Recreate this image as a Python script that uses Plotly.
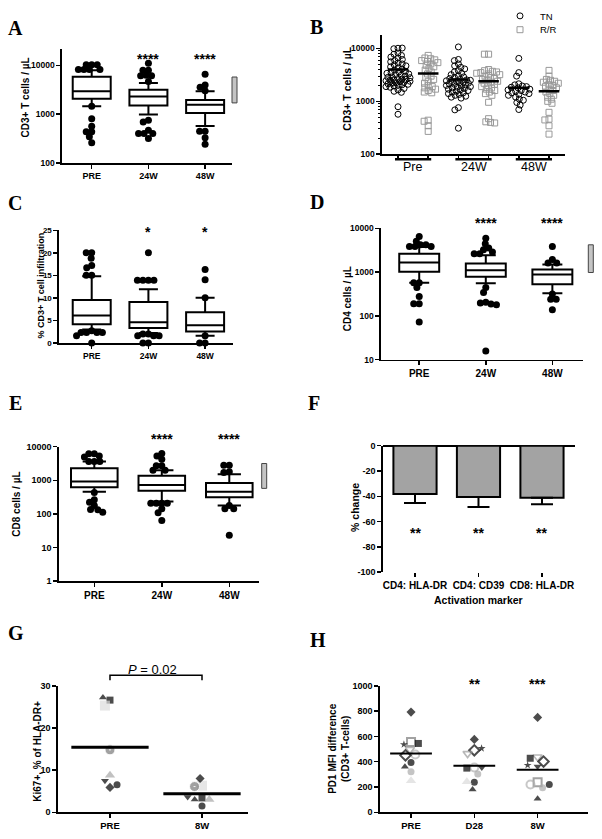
import math
import plotly.graph_objects as go

W, H = 602, 839
SANS = "Liberation Sans, Arial, sans-serif"
SERIF = "Liberation Serif, Times New Roman, serif"

# ======================= DATA =======================
box_cats = ["PRE", "24W", "48W"]

# Panel A : CD3+ T cells / uL  (box = q1, median, q3, whiskers)
A_q1 = [2055, 1507, 1057]
A_median = [2940, 2290, 1550]
A_q3 = [5810, 3170, 1960]
A_low = [1460, 980, 576]
A_high = [7900, 4330, 2940]
A_pre_dots = [10300, 10300, 10200, 8170, 8170, 8170, 8170, 1460, 810, 568, 436, 436, 346, 261]
A_24w_dots = [11000, 7920, 7920, 6280, 6080, 6080, 4680, 750, 692, 471, 403, 403, 403, 320]
A_48w_dots = [6580, 3950, 3550, 3000, 450, 450, 330, 242]
A_norm = [1700, 5750]
A_stars = ["", "****", "****"]

# Panel B : TN vs R/R
B_groups = ["Pre", "24W", "48W"]
B_tn_pre = [10100, 9900, 10200, 8200, 7800, 7400, 6900, 6600, 6200, 5900, 5600, 5300, 5100, 4900,
            4700, 4500, 4300, 4100, 3900, 3700, 3600, 3500, 3400, 3300, 3200, 3100, 3000, 2900,
            2850, 2800, 2700, 2650, 2600, 2550, 2500, 2450, 2400, 2350, 2300, 2250, 2200, 2150,
            2100, 2050, 2000, 1950, 1900, 1850, 1750, 1650, 1550, 1480, 790, 570]
B_rr_pre = [7400, 6600, 6400, 6100, 5900, 5700, 5400, 5100, 4800, 4500, 4200, 3900, 3600, 3300,
            3000, 2800, 2600, 2400, 2200, 2000, 1900, 1800, 1700, 1600, 1500, 1450, 440, 420, 345, 270]
B_tn_24w = [10700, 6200, 5900, 5100, 4700, 4400, 4100, 3800, 3600, 3400, 3200, 3050, 2900, 2800,
            2700, 2600, 2550, 2500, 2450, 2400, 2350, 2300, 2250, 2200, 2150, 2100, 2050, 2000,
            1950, 1900, 1850, 1800, 1750, 1700, 1650, 1600, 1550, 1500, 1450, 1400, 1350, 1300,
            1250, 1200, 1150, 760, 690, 310]
B_rr_24w = [7800, 7800, 4000, 3800, 3700, 3600, 3500, 3400, 3300, 3200, 3000, 2800, 2700, 2600,
            2500, 2400, 2300, 2200, 2100, 2000, 1900, 1800, 1700, 1600, 1500, 1400, 1300, 960,
            470, 410, 400, 390]
B_tn_48w = [6500, 3500, 3000, 2150, 2050, 1950, 1900, 1850, 1800, 1700, 1650, 1600, 1550, 1500,
            1450, 1400, 1350, 1300, 1200, 1100, 1050, 950, 850, 700]
B_rr_48w = [3850, 3000, 2600, 2500, 2400, 2300, 2200, 2100, 2000, 1900, 1800, 1700, 1600, 1500,
            1400, 1300, 1200, 1100, 1000, 920, 620, 460, 445, 345, 240]
B_tn_means = [4000, 2600, 1800]
B_rr_means = [3350, 2400, 1560]

# Panel C : % CD3+ T cell infiltration
C_q1 = [4.17, 3.3, 2.56]
C_median = [6.07, 4.6, 3.9]
C_q3 = [9.5, 9.1, 6.8]
C_low = [3.0, 2.2, 1.6]
C_high = [14.8, 11.9, 10.0]
C_pre_dots = [20, 20, 18.8, 17.2, 16.7, 15.0, 15.0, 2.7, 2.3, 2.3, 2.3, 2.3, 1.6, 0]
C_24w_dots = [20, 13.9, 13.9, 13.9, 13.9, 2.0, 2.0, 1.6, 1.6, 1.6, 0, 0]
C_48w_dots = [16.3, 14.0, 10.0, 1.6, 0, 0]
C_stars = ["", "*", "*"]

# Panel D : CD4 cells / uL
D_q1 = [1016, 785, 527]
D_median = [1650, 1110, 885]
D_q3 = [2630, 1570, 1150]
D_low = [575, 555, 330]
D_high = [3720, 2420, 1490]
D_pre_dots = [6490, 5090, 4200, 4200, 3860, 3860, 3860, 575, 575, 444, 277, 190, 190, 73]
D_24w_dots = [5900, 4440, 3550, 3240, 2880, 2630, 2630, 444, 342, 204, 196, 186, 180, 15.9]
D_48w_dots = [3860, 1930, 1620, 1620, 315, 240, 240, 139]
D_norm = [980, 4200]
D_stars = ["", "****", "****"]

# Panel E : CD8 cells / uL
E_q1 = [615, 490, 310]
E_median = [925, 720, 457]
E_q3 = [2290, 1360, 825]
E_low = [457, 232, 176]
E_high = [3600, 2000, 1520]
E_pre_dots = [6200, 6200, 5300, 4950, 3600, 3600, 3600, 435, 265, 221, 176, 134, 132, 112]
E_24w_dots = [6300, 5300, 4230, 2690, 2690, 2000, 2000, 206, 206, 206, 206, 141, 107, 63]
E_48w_dots = [2820, 2820, 1780, 1700, 176, 141, 141, 23]
E_norm = [574, 3150]
E_stars = ["", "****", "****"]

# Panel F : % change of activation markers
F_cats = ["CD4: HLA-DR", "CD4: CD39", "CD8: HLA-DR"]
F_change = [-38.3, -40.6, -41.1]
F_sem = [7.0, 7.8, 5.3]
F_stars = ["**", "**", "**"]

# Panel G : Ki67+ % of HLA-DR+
G_cats = ["PRE", "8W"]
G_pre = [26.6, 25.3, 27.2, 14.8, 8.8, 7.5, 5.9, 6.5]
G_8w = [3.4, 6.3, 3.0, 6.1, 3.0, 3.6, 8.0, 1.5]
G_means = [15.4, 4.4]
G_pvalue = "0.02"

# Panel H : PD1 MFI difference
H_cats = ["PRE", "D28", "8W"]
H_pre = [792, 555, 536, 544, 497, 456, 450, 393, 359, 320, 250]
H_d28 = [576, 490, 464, 505, 354, 349, 354, 302, 237, 242, 180]
H_8w = [750, 437, 427, 401, 362, 372, 237, 219, 193, 219, 107]
H_means = [465, 368, 336]
H_stars = ["", "**", "***"]

# ======================= STYLE / GEOMETRY =======================
# pixel boxes of each plotting area, and axis ranges
PANELS = {
    "A": dict(n=1, px=(62, 232), py=(45, 160), xr=(-0.524, 2.474), yr=(2, 4.323), log=True),
    "B": dict(n=2, px=(382, 565), py=(30, 151), xr=(-0.53, 5.53), yr=(2, 4.262), log=True),
    "C": dict(n=3, px=(59, 233), py=(228, 342), xr=(-0.577, 2.492), yr=(0, 25), log=False),
    "D": dict(n=4, px=(381, 583), py=(226, 359), xr=(-0.574, 2.46), yr=(1, 4), log=True),
    "E": dict(n=5, px=(59, 259), py=(447, 583), xr=(-0.523, 2.44), yr=(0, 4), log=True),
    "F": dict(n=6, px=(383, 575), py=(446, 574), xr=(-0.504, 2.52), yr=(-100, 0), log=False),
    "G": dict(n=7, px=(58, 248), py=(689, 817), xr=(-0.565, 1.5), yr=(0, 30), log=False),
    "H": dict(n=8, px=(380, 588), py=(689, 817), xr=(-0.49, 2.796), yr=(0, 1000), log=False),
}
# tick label font sizes (x, y) per panel
TICKSIZE = {"A": (9, 8.5), "B": (9, 8.5), "C": (8.5, 8), "D": (10, 8.5), "E": (10, 9),
            "F": (10, 9), "G": (9.5, 9), "H": (9.5, 9)}

G_marks = ["sq", "lsq", "tri", "cdot", "gtri", "tdn", "dia", "cir"]
H_pre_marks = ["dia", "gsqo", "star", "sq", "gtdo", "lco", "diao", "cir", "tri", "gcir", "ltri"]
H_d28_marks = ["dia", "diao", "gtdo", "star", "lco", "sq", "tdn", "gcir", "cir", "ltri", "tri"]
H_8w_marks = ["dia", "gtdo", "sq", "diao", "tdn", "star", "gsqo", "lco", "gcir", "cir", "tri"]
MARKS = {
    "sq": dict(symbol="square", color="black", size=7, lw=0, lc="black"),
    "lsq": dict(symbol="square", color="#dcdcdc", size=10, lw=0, lc="#dcdcdc"),
    "tri": dict(symbol="triangle-up", color="black", size=7, lw=0, lc="black"),
    "cdot": dict(symbol="circle-dot", color="#7a7a7a", size=10, lw=1, lc="white"),
    "gtri": dict(symbol="triangle-up", color="#a6a6a6", size=9, lw=0, lc="#a6a6a6"),
    "tdn": dict(symbol="triangle-down", color="black", size=7, lw=0, lc="black"),
    "dia": dict(symbol="diamond", color="black", size=7, lw=0, lc="black"),
    "cir": dict(symbol="circle", color="black", size=7, lw=0, lc="black"),
    "gsqo": dict(symbol="square-open", color="#7a7a7a", size=8, lw=2, lc="#7a7a7a"),
    "star": dict(symbol="star", color="black", size=6, lw=0, lc="black"),
    "gtdo": dict(symbol="triangle-down-open", color="#9a9a9a", size=8, lw=1.6, lc="#9a9a9a"),
    "lco": dict(symbol="circle-open", color="#b0b0b0", size=8, lw=2, lc="#b0b0b0"),
    "diao": dict(symbol="diamond-open", color="black", size=8, lw=2, lc="black"),
    "gcir": dict(symbol="circle", color="#ababab", size=7, lw=0, lc="#ababab"),
    "ltri": dict(symbol="triangle-up", color="#dadada", size=9, lw=0, lc="#dadada"),
}


def ax_names(n):
    return ("x" if n == 1 else f"x{n}"), ("y" if n == 1 else f"y{n}")


def scale(g):
    ppx = (g["px"][1] - g["px"][0]) / (g["xr"][1] - g["xr"][0])
    ppy = (g["py"][1] - g["py"][0]) / (g["yr"][1] - g["yr"][0])
    return ppx, ppy


def swarm(vals_px, s, maxw=None):
    """deterministic beeswarm: horizontal offsets (px) so markers do not overlap"""
    placed, offs = [], []
    for v in vals_px:
        blocked = []
        for xo, yo in placed:
            dy = abs(v - yo)
            if dy < s:
                dx = math.sqrt(s * s - dy * dy)
                blocked.append((xo - dx, xo + dx))
        cands = [0.0] + [b[0] for b in blocked] + [b[1] for b in blocked]
        cands.sort(key=lambda c: (round(abs(c), 6), c))
        chosen = None
        for c in cands:
            if maxw is not None and abs(c) > maxw + 1e-9:
                continue
            if all(not (lo + 1e-6 < c < hi - 1e-6) for lo, hi in blocked):
                chosen = c
                break
        if chosen is None:
            grid = [-maxw + i * (2 * maxw / 24) for i in range(25)]
            chosen = max(grid, key=lambda c: min((c - xo) ** 2 + (v - yo) ** 2 for xo, yo in placed))
        placed.append((chosen, v))
        offs.append(chosen)
    return offs


def swarm_x(center, vals, g, s, maxw=None):
    ppx, ppy = scale(g)
    ys = [(math.log10(v) if g["log"] else v) * ppy for v in vals]
    return [center + o / ppx for o in swarm(ys, s, maxw)]


def px_y(p):
    return 1 - p / H


def ann(**kw):
    d = dict(showarrow=False, xanchor="center", yanchor="middle")
    d.update(kw)
    return d


fig = go.Figure()
annotations = []
shapes = []

BOLD = lambda s: dict(family=SANS, size=s, color="black", weight="bold")

# ---------------- axes ----------------
xticks = {
    "A": ([0, 1, 2], box_cats), "C": ([0, 1, 2], box_cats), "D": ([0, 1, 2], box_cats),
    "E": ([0, 1, 2], box_cats), "B": ([0, 1, 2, 3, 4, 5], [""] * 6),
    "F": ([0, 1, 2], F_cats), "G": ([0, 1], G_cats), "H": ([0, 1, 2], H_cats),
}
yticks = {
    "A": [100, 1000, 10000], "C": [0, 5, 10, 15, 20, 25], "D": [10, 100, 1000, 10000],
    "E": [1, 10, 100, 1000, 10000], "F": [0, -20, -40, -60, -80, -100],
    "G": [0, 10, 20, 30], "H": [0, 200, 400, 600, 800, 1000],
}
lay = {}
for key, g in PANELS.items():
    n = g["n"]
    xa, ya = ax_names(n)
    xs = "xaxis" if n == 1 else f"xaxis{n}"
    ys = "yaxis" if n == 1 else f"yaxis{n}"
    tv, tt = xticks[key]
    fx, fy = TICKSIZE[key]
    lay[xs] = dict(domain=[g["px"][0] / W, g["px"][1] / W], range=list(g["xr"]), anchor=ya,
                   showline=(key != "F"), linecolor="black", linewidth=1.6, ticks="outside",
                   ticklen=4, tickwidth=1.5, tickcolor="black", showgrid=False, zeroline=False,
                   tickmode="array", tickvals=tv, ticktext=tt, tickfont=BOLD(fx), fixedrange=True)
    yd = dict(domain=[px_y(g["py"][1]), px_y(g["py"][0])], anchor=xa, showline=True,
              linecolor="black", linewidth=1.6, ticks="outside", ticklen=4, tickwidth=1.5,
              tickcolor="black", showgrid=False, zeroline=False, tickfont=BOLD(fy), fixedrange=True)
    if g["log"]:
        yd.update(type="log", range=list(g["yr"]))
    else:
        yd.update(range=list(g["yr"]))
    if key == "B":
        yd.update(tickmode="linear", tick0=0, dtick=1, tickformat="d",
                  minor=dict(ticks="outside", ticklen=2, tickwidth=1, tickcolor="black", dtick="D1"))
    else:
        yd.update(tickmode="array", tickvals=yticks[key], ticktext=[str(v) for v in yticks[key]])
    if key == "F":
        yd.update(zeroline=True, zerolinecolor="black", zerolinewidth=2)
    lay[ys] = yd

# ---------------- box panels A, C, D, E ----------------
box_sets = [
    ("A", A_q1, A_median, A_q3, A_low, A_high, [A_pre_dots, A_24w_dots, A_48w_dots], 0.67, A_stars, 50.7),
    ("C", C_q1, C_median, C_q3, C_low, C_high, [C_pre_dots, C_24w_dots, C_48w_dots], 0.67, C_stars, 226.7),
    ("D", D_q1, D_median, D_q3, D_low, D_high, [D_pre_dots, D_24w_dots, D_48w_dots], 0.60, D_stars, 217.3),
    ("E", E_q1, E_median, E_q3, E_low, E_high, [E_pre_dots, E_24w_dots, E_48w_dots], 0.69, E_stars, 436.0),
]
for key, q1, med, q3, lo, hi, dots, bw, stars, stary in box_sets:
    g = PANELS[key]
    xa, ya = ax_names(g["n"])
    fig.add_trace(go.Box(x=[0, 1, 2], q1=q1, median=med, q3=q3, lowerfence=lo, upperfence=hi,
                         width=bw, whiskerwidth=0.5, fillcolor="white", boxpoints=False,
                         line=dict(color="black", width=2), xaxis=xa, yaxis=ya,
                         showlegend=False, hoverinfo="skip"))
    xs_all, ys_all = [], []
    for i, d in enumerate(dots):
        xs_all += swarm_x(i, d, g, 5.5)
        ys_all += d
    fig.add_trace(go.Scatter(x=xs_all, y=ys_all, mode="markers", xaxis=xa, yaxis=ya,
                             marker=dict(color="black", size=7), cliponaxis=False,
                             showlegend=False, hoverinfo="skip"))
    for i, s in enumerate(stars):
        if s:
            annotations.append(ann(x=i, xref=xa, y=px_y(stary + 3.5), yref="paper", text=s, font=BOLD(14)))

# grey reference bars (A, D, E)
for key, rng, xpx in [("A", A_norm, (232, 237)), ("D", D_norm, (588.3, 593.3)), ("E", E_norm, (261.7, 266.7))]:
    xa, ya = ax_names(PANELS[key]["n"])
    shapes.append(dict(type="rect", xref="paper", yref=ya, x0=xpx[0] / W, x1=xpx[1] / W,
                       y0=rng[0], y1=rng[1], fillcolor="#c4c4c4", line=dict(color="#444444", width=1)))

# ---------------- panel B ----------------
gB = PANELS["B"]
xa, ya = ax_names(2)
tn_sets = [B_tn_pre, B_tn_24w, B_tn_48w]
rr_sets = [B_rr_pre, B_rr_24w, B_rr_48w]
tx, ty, rx, ry = [], [], [], []
for i in range(3):
    tx += swarm_x(2 * i, tn_sets[i], gB, 4.2, 12)
    ty += tn_sets[i]
    rx += swarm_x(2 * i + 1, rr_sets[i], gB, 4.2, 12)
    ry += rr_sets[i]
fig.add_trace(go.Scatter(x=tx, y=ty, mode="markers", name="TN", xaxis=xa, yaxis=ya, legend="legend",
                         marker=dict(symbol="circle-open", color="black", size=6, line=dict(width=1)),
                         cliponaxis=False, hoverinfo="skip"))
fig.add_trace(go.Scatter(x=rx, y=ry, mode="markers", name="R/R", xaxis=xa, yaxis=ya, legend="legend2",
                         marker=dict(symbol="square-open", color="#999999", size=6, line=dict(width=1)),
                         cliponaxis=False, hoverinfo="skip"))
mx, my = [], []
for i in range(3):
    for pos, m in [(2 * i, B_tn_means[i]), (2 * i + 1, B_rr_means[i])]:
        mx += [pos - 0.34, pos + 0.34, None]
        my += [m, m, None]
fig.add_trace(go.Scatter(x=mx, y=my, mode="lines", xaxis=xa, yaxis=ya, line=dict(color="black", width=2.5),
                         showlegend=False, hoverinfo="skip"))
for i, lab in enumerate(B_groups):
    shapes.append(dict(type="line", xref=xa, yref="paper", x0=2 * i - 0.1, x1=2 * i + 1.1,
                       y0=px_y(156), y1=px_y(156), line=dict(color="black", width=2.5)))
    annotations.append(ann(x=2 * i + 0.5, xref=xa, y=px_y(164), yref="paper", text=lab,
                           font=dict(family=SANS, size=12.5, color="black")))

# ---------------- panel F ----------------
xa, ya = ax_names(6)
fig.add_trace(go.Bar(x=[0, 1, 2], y=F_change, width=0.68, xaxis=xa, yaxis=ya,
                     marker=dict(color="#a3a3a3", line=dict(color="black", width=2)),
                     error_y=dict(type="data", symmetric=False, array=[0, 0, 0], arrayminus=F_sem,
                                  color="black", thickness=2, width=11),
                     showlegend=False, hoverinfo="skip"))
for i, s in enumerate(F_stars):
    annotations.append(ann(x=i, xref=xa, y=px_y(530.7 + 3.5), yref="paper", text=s, font=BOLD(14)))
annotations.append(ann(x=1, xref=xa, y=px_y(602), yref="paper", text="Activation marker", font=BOLD(10.5)))


# ---------------- panels G, H ----------------
def marker_arrays(keys):
    return dict(symbol=[MARKS[k]["symbol"] for k in keys], color=[MARKS[k]["color"] for k in keys],
                size=[MARKS[k]["size"] for k in keys],
                line=dict(width=[MARKS[k]["lw"] for k in keys], color=[MARKS[k]["lc"] for k in keys]))


gG = PANELS["G"]
xa, ya = ax_names(7)
for i, vals in enumerate([G_pre, G_8w]):
    fig.add_trace(go.Scatter(x=swarm_x(i, vals, gG, 7.5), y=vals, mode="markers", xaxis=xa, yaxis=ya,
                             marker=marker_arrays(G_marks), cliponaxis=False, showlegend=False, hoverinfo="skip"))
gx, gy = [], []
for i, m in enumerate(G_means):
    gx += [i - 0.42, i + 0.42, None]
    gy += [m, m, None]
fig.add_trace(go.Scatter(x=gx, y=gy, mode="lines", xaxis=xa, yaxis=ya, line=dict(color="black", width=3),
                         showlegend=False, hoverinfo="skip"))
shapes.append(dict(type="path", xref=xa, yref="paper",
                   path=f"M 0,{px_y(683.5)} L 0,{px_y(678.3)} L 1,{px_y(678.3)} L 1,{px_y(683.5)}",
                   line=dict(color="black", width=1.5)))
annotations.append(ann(x=0.46, xref=xa, y=px_y(672.5), yref="paper", text=f"<i>P</i> = {G_pvalue}",
                       font=dict(family=SANS, size=13, color="black")))

gH = PANELS["H"]
xa, ya = ax_names(8)
for i, (vals, mk) in enumerate([(H_pre, H_pre_marks), (H_d28, H_d28_marks), (H_8w, H_8w_marks)]):
    fig.add_trace(go.Scatter(x=swarm_x(i, vals, gH, 7.5), y=vals, mode="markers", xaxis=xa, yaxis=ya,
                             marker=marker_arrays(mk), cliponaxis=False, showlegend=False, hoverinfo="skip"))
hx, hy = [], []
for i, m in enumerate(H_means):
    hx += [i - 0.33, i + 0.33, None]
    hy += [m, m, None]
fig.add_trace(go.Scatter(x=hx, y=hy, mode="lines", xaxis=xa, yaxis=ya, line=dict(color="black", width=2),
                         showlegend=False, hoverinfo="skip"))
for i, s in enumerate(H_stars):
    if s:
        annotations.append(ann(x=i, xref=xa, y=px_y(683.3 + 3.5), yref="paper", text=s, font=BOLD(14)))

# ---------------- titles and panel letters ----------------
ytitles = [
    ("CD3+ T cells / µL", 25, 93.5, 10), ("CD3+ T cells / µL", 346.7, 84, 10.5),
    ("% CD3+ T cell infiltration", 41, 284, 9), ("CD4 cells / µL", 348.3, 297.5, 10),
    ("CD8 cells / µL", 16.7, 505, 10), ("% change", 355, 509, 10.5),
    ("Ki67+, % of HLA-DR+", 36.7, 755, 10), ("PD1 MFI difference<br>(CD3+ T-cells)", 338.3, 752.5, 10),
]
for text, x, y, sz in ytitles:
    annotations.append(ann(x=x / W, y=px_y(y), xref="paper", yref="paper", text=text, textangle=-90,
                           font=BOLD(sz)))
letters = [("A", 15, 23), ("B", 317, 22), ("C", 15, 200), ("D", 317, 199),
           ("E", 15.5, 403), ("F", 314, 403), ("G", 15.5, 636), ("H", 317.5, 643)]
for text, x, y in letters:
    annotations.append(ann(x=x / W, y=px_y(y), xref="paper", yref="paper", text=text,
                           font=dict(family=SERIF, size=20, color="black", weight="bold")))

LEG = dict(xanchor="left", yanchor="middle", bgcolor="rgba(0,0,0,0)", borderwidth=0, itemwidth=30,
           font=dict(family=SANS, size=9.5, color="black"))
fig.update_layout(
    width=W, height=H, margin=dict(l=0, r=0, t=0, b=0), paper_bgcolor="white", plot_bgcolor="white",
    annotations=annotations, shapes=shapes, hovermode=False,
    legend=dict(LEG, x=500 / W, y=px_y(11)), legend2=dict(LEG, x=500 / W, y=px_y(25)),
    **lay,
)
fig.write_html("out.html", config={"displayModeBar": False, "staticPlot": True},
               post_script="document.body.style.margin='0px';")
